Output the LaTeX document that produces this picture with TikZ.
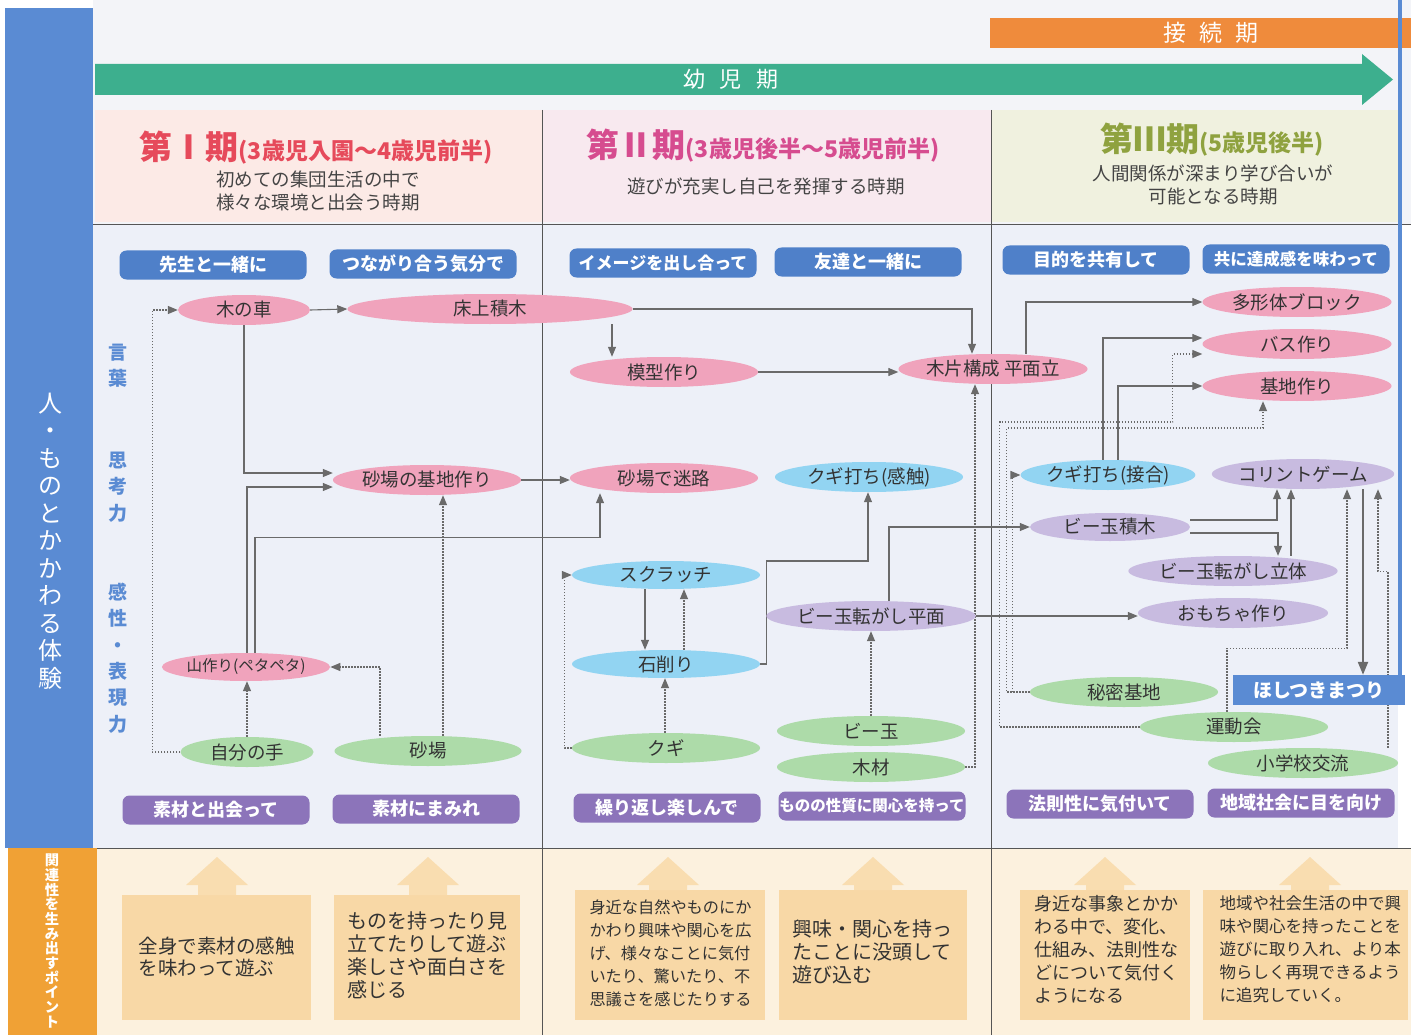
\documentclass[tikz,border=0pt]{standalone}
\usepackage{fontspec}
\setmainfont{Noto Sans CJK JP}
\usetikzlibrary{shapes.geometric,arrows.meta,calc}
\pgfdeclarelayer{back}
\pgfdeclarelayer{conn}
\pgfsetlayers{back,conn,main}
\definecolor{bluemain}{HTML}{5A8BD3}
\definecolor{boxblue}{HTML}{4F80C9}
\definecolor{boxpurple}{HTML}{8C74BA}
\definecolor{ellpink}{HTML}{F0A3BC}
\definecolor{ellblue}{HTML}{92D4F2}
\definecolor{ellgreen}{HTML}{ADDBA9}
\definecolor{ellpurple}{HTML}{C8BBE0}
\definecolor{midbg}{HTML}{EDF0F8}
\definecolor{topbg}{HTML}{F3F4F8}
\definecolor{botbg}{HTML}{FCF1DE}
\definecolor{tanbox}{HTML}{F8D8A6}
\definecolor{tanarr}{HTML}{F9DDB0}
\definecolor{orangebar}{HTML}{EF8B3C}
\definecolor{orangecol}{HTML}{F0A135}
\definecolor{arrowgreen}{HTML}{3DAF8E}
\definecolor{hdrI}{HTML}{FCEAE6}
\definecolor{hdrII}{HTML}{F8E9EF}
\definecolor{hdrIII}{HTML}{F0F1DF}
\definecolor{titI}{HTML}{E64A5B}
\definecolor{titII}{HTML}{D64C8F}
\definecolor{titIII}{HTML}{8FA23F}
\definecolor{connc}{HTML}{6A6A6A}
\definecolor{txt}{HTML}{333333}
\definecolor{subtxt}{HTML}{444444}
\definecolor{sepline}{HTML}{555555}
\newcommand\myupar[2]{\fill[tanarr] (#1-19,#2) -- (#1-19,885) -- (#1-31,885) -- (#1,857) -- (#1+31,885) -- (#1+19,885) -- (#1+19,#2) -- cycle;}
\tikzset{
  ellbase/.style={ellipse, inner sep=0pt, minimum width=188pt, minimum height=30pt, text=txt, font=\fontsize{18.5}{20}\selectfont},
  pk/.style={ellbase, fill=ellpink},
  bl/.style={ellbase, fill=ellblue},
  gr/.style={ellbase, fill=ellgreen},
  pu/.style={ellbase, fill=ellpurple},
  tagb/.style={rounded corners=7pt, fill=boxblue, minimum width=187pt, minimum height=29pt, inner sep=0pt, text=white, font=\bfseries\fontsize{18}{20}\selectfont},
  tagp/.style={tagb, fill=boxpurple},
  cline/.style={draw=connc, line width=1.1pt, -{Triangle[length=10pt,width=8pt]}},
  dline/.style={cline, line width=1.3pt, dash pattern=on 1.4pt off 1.6pt},
  sidelbl/.style={text=bluemain, align=center, font=\bfseries\fontsize{19}{26.3}\selectfont},
  subt/.style={text=subtxt, align=center, font=\fontsize{18.5}{22.5}\selectfont},
  btxt/.style={anchor=west, align=left, text=txt},
}
\begin{document}
\begin{tikzpicture}[x=1pt,y=-1pt]
\useasboundingbox (0,0) rectangle (1411,1035);
\begin{pgfonlayer}{back}
\fill[white] (0,0) rectangle (1411,1035);
\fill[topbg] (93,0) rectangle (1411,224);
\fill[midbg] (93,224) rectangle (1398,848);
\fill[botbg] (97,848) rectangle (1411,1035);
\fill[bluemain] (5,8) rectangle (93,848);
\fill[orangecol] (8,848) rectangle (97,1035);
\fill[hdrI] (95,110) rectangle (542,222);
\fill[hdrII] (542,110) rectangle (991,222);
\fill[hdrIII] (991,110) rectangle (1398,222);
\draw[sepline, line width=0.8pt] (542,110) -- (542,1035);
\draw[sepline, line width=0.8pt] (991,110) -- (991,1035);
\draw[sepline, line width=0.9pt] (93,224) -- (1411,224);
\draw[sepline, line width=0.9pt] (97,848) -- (1411,848);
\fill[orangebar] (990,18) rectangle (1411,48);
\fill[arrowgreen] (95,64) -- (1362,64) -- (1362,54) -- (1393,79.5) -- (1362,105) -- (1362,95) -- (95,95) -- cycle;
\fill[bluemain] (1398,0) rectangle (1402,705);
\fill[tanbox] (122,895) rectangle (311,1020);
\fill[tanbox] (334,895) rectangle (520,1020);
\fill[tanbox] (575,890) rectangle (765,1020);
\fill[tanbox] (779,890) rectangle (967,1020);
\fill[tanbox] (1020,890) rectangle (1190,1020);
\fill[tanbox] (1203,890) rectangle (1408,1020);
\myupar{217}{895}
\myupar{428}{895}
\myupar{668}{890}
\myupar{873}{890}
\myupar{1105}{890}
\myupar{1310}{890}
\end{pgfonlayer}

% headers
\node[text=white, font=\fontsize{22}{24}\selectfont] (youji) at (731,79) {幼\hspace{15pt}児\hspace{15pt}期};
\node[text=white, font=\fontsize{23}{24}\selectfont] (setsuzoku) at (1211,33) {接\hspace{13pt}続\hspace{13pt}期};
\node[text=titI, font=\bfseries] (titleI) at (316,148) {{\fontsize{33}{35}\selectfont 第Ⅰ期}{\fontsize{23}{25}\selectfont (3歳児入園～4歳児前半)}};
\node[text=titII, font=\bfseries] (titleII) at (763,146) {{\fontsize{33}{35}\selectfont 第Ⅱ期}{\fontsize{23}{25}\selectfont (3歳児後半～5歳児前半)}};
\node[text=titIII, font=\bfseries] (titleIII) at (1212,140) {{\fontsize{33}{35}\selectfont 第Ⅲ期}{\fontsize{23}{25}\selectfont (5歳児後半)}};
\node[subt] (subI) at (318,191) {初めての集団生活の中で\\様々な環境と出会う時期};
\node[subt] (subII) at (766,186) {遊びが充実し自己を発揮する時期};
\node[subt] (subIII) at (1213,185) {人間関係が深まり学び合いが\\可能となる時期};

% side texts
\node[text=white, align=center, font=\fontsize{24}{27.5}\selectfont] (sidet) at (50,541) {人\\・\\も\\の\\と\\か\\か\\わ\\る\\体\\験};
\node[text=white, align=center, font=\bfseries\fontsize{14.3}{14.7}\selectfont] (sideb) at (52,941) {関\\連\\性\\を\\生\\み\\出\\す\\ポ\\イ\\ン\\ト};
\node[sidelbl] (lang) at (118,366) {言\\葉};
\node[sidelbl] (think) at (118,487) {思\\考\\力};
\node[sidelbl] (sense) at (118,658) {感\\性\\・\\表\\現\\力};

% tags
\node[tagb] (t1) at (213,265) {先生と一緒に};
\node[tagb] (t2) at (423,264) {つながり合う気分で};
\node[tagb, font=\bfseries\fontsize{17}{20}\selectfont] (t3) at (663,263) {イメージを出し合って};
\node[tagb] (t4) at (868,262) {友達と一緒に};
\node[tagb] (t5) at (1096,260) {目的を共有して};
\node[tagb, font=\bfseries\fontsize{16.5}{20}\selectfont] (t6) at (1296,259) {共に達成感を味わって};
\node[tagp] (p1) at (216,810) {素材と出会って};
\node[tagp] (p2) at (426,809) {素材にまみれ};
\node[tagp] (p3) at (667,808) {繰り返し楽しんで};
\node[tagp, font=\bfseries\fontsize{15.5}{20}\selectfont] (p4) at (872,806) {ものの性質に関心を持って};
\node[tagp] (p5) at (1100,804) {法則性に気付いて};
\node[tagp] (p6) at (1301,803) {地域社会に目を向け};

% ellipses
\node[pk, minimum width=132pt] (kuruma) at (244,310) {木の車};
\node[pk, minimum width=285pt] (yukajo) at (490,309) {床上積木};
\node[pk] (sunakichi) at (427,480) {砂場の基地作り};
\node[pk] (mokei) at (664,372) {模型作り};
\node[pk] (mokuhen) at (993,369) {木片構成 平面立};
\node[pk] (meiro) at (664,478) {砂場で迷路};
\node[pk, minimum width=134pt, minimum height=28pt, font=\fontsize{15.5}{17}\selectfont] (yama) at (246,667) {山作り(ペタペタ)};
\node[pk, minimum width=189pt] (tabo) at (1297,302) {多形体ブロック};
\node[pk, minimum width=189pt] (bus) at (1297,344) {バス作り};
\node[pk, minimum width=189pt] (kichi) at (1297,386) {基地作り};
\node[bl] (kugikan) at (869,477) {クギ打ち(感触)};
\node[bl, minimum height=28pt] (scratch) at (666,575) {スクラッチ};
\node[bl, minimum height=28pt] (ishi) at (666,664) {石削り};
\node[bl, minimum width=174pt] (kugiset) at (1108,475) {クギ打ち(接合)};
\node[pu] (bidamahei) at (871,616) {ビー玉転がし平面};
\node[pu, minimum width=176pt] (korinto) at (1303,474) {コリントゲーム};
\node[pu, minimum width=160pt, minimum height=28pt] (bidamatsumi) at (1110,527) {ビー玉積木};
\node[pu, minimum width=190pt] (bidamarit) at (1233,571) {ビー玉転がし立体};
\node[pu, minimum width=190pt] (omocha) at (1233,613) {おもちゃ作り};
\node[gr, minimum width=133pt] (jibun) at (247,752) {自分の手};
\node[gr, minimum width=187pt] (sunaba) at (428,751) {砂場};
\node[gr] (kugi) at (666,748) {クギ};
\node[gr] (bidama) at (871,731) {ビー玉};
\node[gr] (mokuzai) at (871,767) {木材};
\node[gr] (himitsu) at (1124,692) {秘密基地};
\node[gr] (undokai) at (1234,727) {運動会};
\node[gr, minimum width=190pt] (shogaku) at (1303,763) {小学校交流};
\node[fill=bluemain, minimum width=172pt, minimum height=30pt, inner sep=0pt, text=white, font=\bfseries\fontsize{19}{21}\selectfont] (hoshi) at (1319,690) {ほしつきまつり};

% bottom texts
\node[btxt, font=\fontsize{19.5}{22}\selectfont] (bt1) at (135,957) {全身で素材の感触\\を味わって遊ぶ};
\node[btxt, font=\fontsize{20}{23}\selectfont] (bt2) at (344,955) {ものを持ったり見\\立てたりして遊ぶ\\楽しさや面白さを\\感じる};
\node[btxt, font=\fontsize{16.2}{23}\selectfont] (bt3) at (586,953) {身近な自然やものにか\\かわり興味や関心を広\\げ、様々なことに気付\\いたり、驚いたり、不\\思議さを感じたりする};
\node[btxt, font=\fontsize{20}{23}\selectfont] (bt4) at (789,952) {興味・関心を持っ\\たことに没頭して\\遊び込む};
\node[btxt, font=\fontsize{18}{23}\selectfont] (bt5) at (1031,949) {身近な事象とかか\\わる中で、変化、\\仕組み、法則性な\\どについて気付く\\ようになる};
\node[btxt, font=\fontsize{16.5}{23}\selectfont] (bt6) at (1216,949) {地域や社会生活の中で興\\味や関心を持ったことを\\遊びに取り入れ、より本\\物らしく再現できるよう\\に追究していく。};

% connectors
\begin{pgfonlayer}{conn}
\draw[dline] (jibun.west) -- ++(-28,0) |- (kuruma.west);
\draw[cline] (kuruma.east) -- (yukajo.west);
\draw[cline] (kuruma.south) |- ([yshift=7pt]sunakichi.west);
\draw[cline] ([xshift=1pt]yama.north) |- ([yshift=-7pt]sunakichi.west);
\draw[cline] ([xshift=9pt]yama.north) -- ++(0,-115) -| ([xshift=-64pt]meiro.south);
\draw[cline] (yukajo.east) -| ([xshift=-21pt]mokuhen.north);
\draw[cline] ([xshift=122pt]yukajo.south) -- ([xshift=-52pt]mokei.north);
\draw[cline] (mokei.east) -- (mokei.east -| mokuhen.west);
\draw[cline] (sunakichi.east) -- (sunakichi.east -| meiro.west);
\draw[dline] ([xshift=15pt]sunaba.north) -- ([xshift=16pt]sunakichi.south);
\draw[dline] ([xshift=-48pt]sunaba.north) |- (yama.east);
\draw[dline] (jibun.north) -- (jibun.north |- yama.south);
\draw[dline] ([xshift=-1pt]kugi.north) -- ([xshift=-1pt]ishi.south);
\draw[cline] ([xshift=-21pt]scratch.south) -- ([xshift=-21pt]ishi.north);
\draw[dline] ([xshift=18pt]ishi.north) -- ([xshift=18pt]scratch.south);
\draw[dline] (kugi.west) -- ++(-7,0) |- (scratch.west);
\draw[cline] (ishi.east) -- ++(6,0) -- ++(0,-103) -| ([xshift=-1pt]kugikan.south);
\draw[dline] (bidama.north) -- (bidama.north |- bidamahei.south);
\draw[cline] ([xshift=18pt]bidamahei.north) |- (bidamatsumi.west);
\draw[cline] (bidamahei.east) -- (bidamahei.east -| omocha.west);
\draw[dline] (mokuzai.east) -| ([xshift=-18pt]mokuhen.south);
\draw[cline] ([xshift=33pt]mokuhen.north) |- (tabo.west);
\draw[cline] ([xshift=-5pt]kugiset.north) |- ([yshift=6pt]bus.west);
\draw[cline] ([xshift=10pt]kugiset.north) |- (kichi.west);
\draw[dline] (undokai.west) -- ++(-140,0) -- ++(0,-305) -- ++(173,0) |- ([yshift=-10pt]bus.west);
\draw[dline] (himitsu.west) -- ++(-23,0) -- ++(0,-264) -| ([xshift=-34pt]kichi.south);
\draw[dline] ([xshift=-17pt]himitsu.west) |- (kugiset.west);
\draw[cline] ([yshift=7pt]bidamatsumi.east) -| ([xshift=-26pt]korinto.south);
\draw[cline] ([yshift=-6pt]bidamatsumi.east) -| ([xshift=45pt]bidamarit.north);
\draw[cline] ([xshift=58pt]bidamarit.north) -- ([xshift=-12pt]korinto.south);
\draw[cline, line width=2.2pt, -{Triangle[length=13pt,width=10pt]}] ([xshift=60pt]korinto.south) -- ([xshift=44pt]hoshi.north);
\draw[dline] ([xshift=-7pt]undokai.north) -- ++(0,-63) -| ([xshift=44pt]korinto.south);
\draw[dline] ([xshift=85pt]shogaku.north) -- ++(0,-176) -| ([xshift=75pt]korinto.south);
\end{pgfonlayer}
\end{tikzpicture}
\end{document}
